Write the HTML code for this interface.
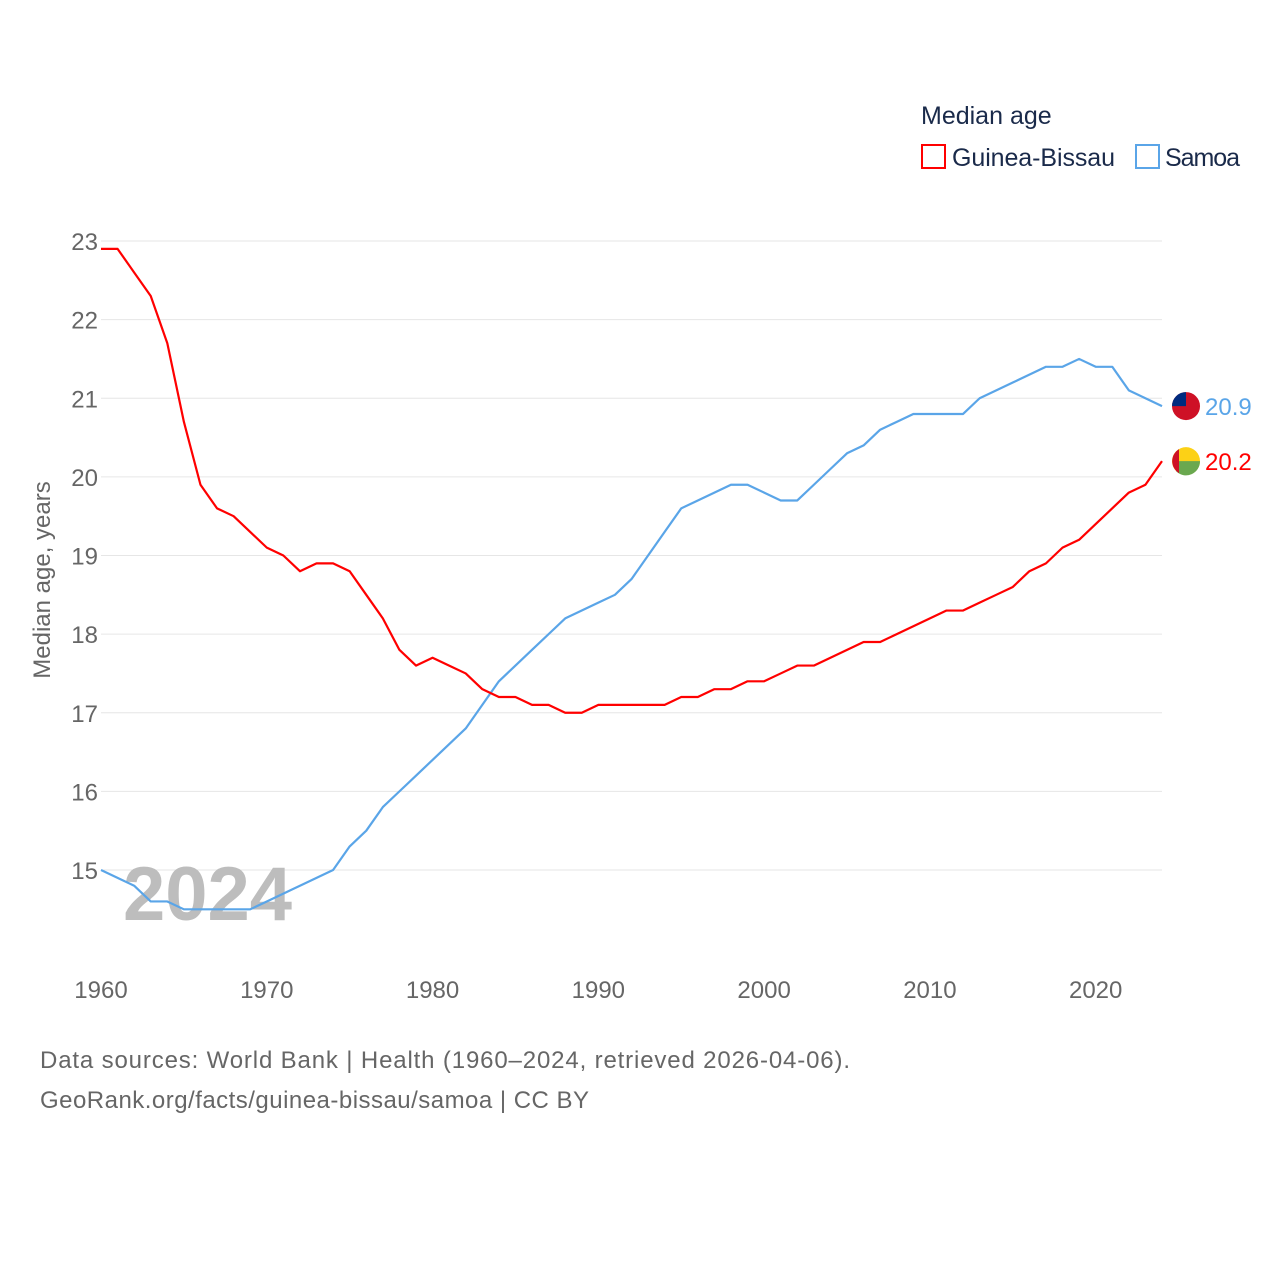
<!DOCTYPE html>
<html><head><meta charset="utf-8"><style>
body{margin:0;background:#fff;font-family:"Liberation Sans",sans-serif}
svg text{font-family:"Liberation Sans",sans-serif}
</style></head><body>
<svg id="chart" width="1280" height="1280" viewBox="0 0 1280 1280">
<g id="grid"></g>
<g id="yticks"></g>
<g id="xticks"></g>
<text x="123" y="920" font-size="76" font-weight="bold" fill="#bdbdbd">2024</text>
<text transform="translate(50,580) rotate(-90)" text-anchor="middle" font-size="24" fill="#666">Median age, years</text>
<g id="series"></g>
<g>
<text x="921" y="124" font-size="25" fill="#1a2a4a">Median age</text>
<g><rect x="922" y="145" width="23" height="23" fill="#fff" stroke="#ff0000" stroke-width="2"/><text x="952" y="166" font-size="25" fill="#1a2a4a" textLength="163">Guinea-Bissau</text></g>
<g><rect x="1136" y="145" width="23" height="23" fill="#fff" stroke="#5aa5e8" stroke-width="2"/><text x="1165" y="166" font-size="25" fill="#1a2a4a" textLength="75">Samoa</text></g>
</g>
<text x="40" y="1068" font-size="24" fill="#666" textLength="810">Data sources: World Bank | Health (1960–2024, retrieved 2026-04-06).</text>
<text x="40" y="1108" font-size="24" fill="#666" textLength="549">GeoRank.org/facts/guinea-bissau/samoa | CC BY</text>
</svg>
<script>
const years=[];for(let y=1960;y<=2024;y++)years.push(y);
const guineaBissau=[22.9,22.9,22.6,22.3,21.7,20.7,19.9,19.6,19.5,19.3,19.1,19.0,18.8,18.9,18.9,18.8,18.5,18.2,17.8,17.6,17.7,17.6,17.5,17.3,17.2,17.2,17.1,17.1,17.0,17.0,17.1,17.1,17.1,17.1,17.1,17.2,17.2,17.3,17.3,17.4,17.4,17.5,17.6,17.6,17.7,17.8,17.9,17.9,18.0,18.1,18.2,18.3,18.3,18.4,18.5,18.6,18.8,18.9,19.1,19.2,19.4,19.6,19.8,19.9,20.2];
const samoa=[15.0,14.9,14.8,14.6,14.6,14.5,14.5,14.5,14.5,14.5,14.6,14.7,14.8,14.9,15.0,15.3,15.5,15.8,16.0,16.2,16.4,16.6,16.8,17.1,17.4,17.6,17.8,18.0,18.2,18.3,18.4,18.5,18.7,19.0,19.3,19.6,19.7,19.8,19.9,19.9,19.8,19.7,19.7,19.9,20.1,20.3,20.4,20.6,20.7,20.8,20.8,20.8,20.8,21.0,21.1,21.2,21.3,21.4,21.4,21.5,21.4,21.4,21.1,21.0,20.9];
const yTicks=[15,16,17,18,19,20,21,22,23];
const xTicks=[1960,1970,1980,1990,2000,2010,2020];
const NS="http://www.w3.org/2000/svg";
const X=v=>101+(v-1960)*(1162-101)/64;
const Y=v=>870-(v-15)*(870-241)/8;
function mk(tag,attrs,parent,txt){const e=document.createElementNS(NS,tag);for(const k in attrs)e.setAttribute(k,attrs[k]);if(txt!==undefined)e.textContent=txt;parent.appendChild(e);return e;}
const grid=document.getElementById('grid'),yt=document.getElementById('yticks'),xt=document.getElementById('xticks'),ser=document.getElementById('series');
yTicks.forEach(t=>{
 const l=mk('line',{x1:101,x2:1162,y1:Y(t),y2:Y(t),stroke:'#e6e6e6','stroke-width':1},grid);
 
 
 const tx=mk('text',{x:98,y:Y(t)+9,'text-anchor':'end','font-size':24,fill:'#666'},yt,t);
 
 
});
xTicks.forEach(t=>{
 const tx=mk('text',{x:X(t),y:998,'text-anchor':'middle','font-size':24,fill:'#666'},xt,t);
 
 
});
function line(data,color,name){
 const p=mk('polyline',{points:data.map((v,i)=>X(years[i])+','+Y(v)).join(' '),fill:'none',stroke:color,'stroke-width':2.2,'stroke-linejoin':'round'},ser);
 
 
 const last=data[data.length-1];
 const c=mk('circle',{cx:1186,cy:Y(last),r:14,fill:name==='samoa'?'#ce1126':'#fcd116'},ser);
 
 
 if(name==='samoa'){const q=mk('path',{d:`M1172 ${Y(last)} A14 14 0 0 1 1186 ${Y(last)-14} L1186 ${Y(last)} Z`,fill:'#002b7f'},ser);}
 else{const g=mk('path',{d:`M1176 ${Y(last)} L1200 ${Y(last)} A14 14 0 0 1 1176 ${Y(last)+10} Z`,fill:'#6aa84f'},ser);
  const r=mk('path',{d:`M1179 ${Y(last)-12} A14 14 0 0 0 1179 ${Y(last)+12} Z`,fill:'#ce1126'},ser);}
 const t=mk('text',{x:1205,y:Y(last)+9,'font-size':24,fill:color},ser,last.toFixed(1));
 
 
}
line(samoa,'#5aa5e8','samoa');
line(guineaBissau,'#ff0000','guinea-bissau');
</script>
</body></html>
